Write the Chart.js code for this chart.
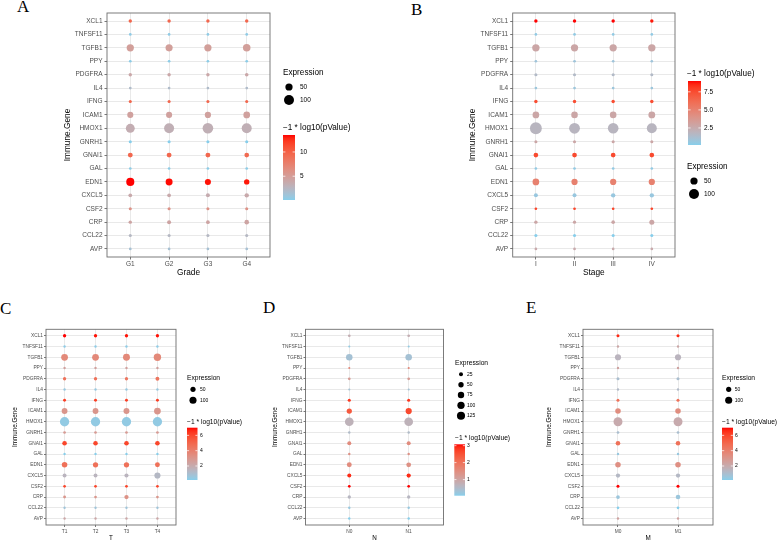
<!DOCTYPE html>
<html>
<head>
<meta charset="utf-8">
<script src="https://cdn.jsdelivr.net/npm/chart.js@4.4.1/dist/chart.umd.min.js"></script>
<style>
  body { margin: 0; background: #fff; width: 778px; height: 540px; position: relative; overflow: hidden; }
  canvas { position: absolute; }
  .tag { position: absolute; font-family: "Liberation Serif", "Times New Roman", serif; font-size: 17px; line-height: 1; color: #000; }
</style>
</head>
<body>
<div class="tag" style="left:17px;top:-2px">A</div>
<div class="tag" style="left:411px;top:1px">B</div>
<div class="tag" style="left:0px;top:300px">C</div>
<div class="tag" style="left:263px;top:299px">D</div>
<div class="tag" style="left:526px;top:299px">E</div>

<canvas id="chartA" width="380" height="285" style="left:0;top:0"></canvas>
<canvas id="chartB" width="398" height="285" style="left:380px;top:0"></canvas>
<canvas id="chartC" width="260" height="255" style="left:0;top:285px"></canvas>
<canvas id="chartD" width="258" height="255" style="left:260px;top:285px"></canvas>
<canvas id="chartE" width="260" height="255" style="left:518px;top:285px"></canvas>

<script>
// genes, top to bottom as on the y axis
const genes = ['XCL1', 'TNFSF11', 'TGFB1', 'PPY', 'PDGFRA', 'IL4', 'IFNG', 'ICAM1', 'HMOX1',
               'GNRH1', 'GNAI1', 'GAL', 'EDN1', 'CXCL5', 'CSF2', 'CRP', 'CCL22', 'AVP'];

// A - Grade
const gradeGroups = ['G1', 'G2', 'G3', 'G4'];
const gradeExpr = [
    [9, 9, 9, 9], [5, 5, 5, 5], [50, 48, 50, 54], [5, 5, 5, 5], [9, 9, 9, 10], [5, 5, 5, 5],
    [7, 7, 7, 7], [34, 34, 36, 42], [78, 100, 114, 100], [7, 7, 7, 7], [21, 21, 21, 19], [5, 5, 5, 5],
    [64, 46, 34, 26], [11, 11, 13, 16], [7, 7, 7, 7], [9, 13, 11, 18], [7, 7, 7, 7], [5, 5, 5, 5]
];
const gradeLogP = [
    [9.5, 9.5, 9.5, 9.5], [0.4, 0.4, 0.4, 0.4], [4.8, 4.8, 4.8, 4.8], [0.3, 0.3, 0.3, 0.3],
    [4, 4, 4, 4], [2, 2, 2, 2], [9.5, 9.5, 9.5, 9.5], [4.6, 4.6, 4.6, 4.6], [3.4, 3.2, 3.2, 3.2],
    [0.1, 0.1, 0.1, 0.1], [9.5, 9.5, 9.5, 9.3], [0.3, 0.3, 0.3, 0.3], [13.5, 13.4, 13.3, 13.2],
    [3.8, 3.8, 3.6, 3.8], [6, 6, 6, 6], [4.3, 4.3, 4.3, 4.3], [2.4, 2.4, 2.4, 2.4], [1.5, 1.5, 1.5, 1.5]
];
const gradeSizeBreaks = [50, 100];
const gradeColourBreaks = [5, 10];
const gradeColourLabels = ['5', '10'];

// B - Stage
const stageGroups = ['I', 'II', 'III', 'IV'];
const stageExpr = [
    [9, 9, 9, 9], [5, 5, 5, 5], [52, 50, 50, 52], [5, 5, 5, 5], [7, 7, 7, 7], [5, 5, 5, 5],
    [9, 9, 9, 9], [42, 40, 40, 44], [144, 118, 114, 100], [7, 7, 7, 7], [19, 19, 19, 19], [5, 5, 5, 5],
    [42, 36, 36, 36], [13, 13, 16, 16], [5, 5, 5, 5], [9, 8, 10, 22], [7, 7, 7, 7], [5, 5, 5, 5]
];
const stageLogP = [
    [9, 9, 9, 8.8], [0.4, 0.4, 0.4, 0.4], [2.8, 2.8, 2.8, 2.8], [0.8, 0.8, 0.8, 0.8],
    [1.5, 1.5, 1.5, 1.5], [0.7, 0.7, 0.7, 0.7], [7.5, 7.5, 7.5, 7.5], [2.8, 2.8, 2.8, 2.8],
    [1.8, 1.8, 1.8, 1.8], [2.8, 2.8, 2.8, 2.8], [7.6, 7.6, 7.6, 7.6], [0.4, 0.4, 0.4, 0.4],
    [5, 5, 5, 5], [0.6, 0.6, 0.6, 0.6], [7.8, 7.8, 7.8, 7.8], [2.8, 2.8, 2.8, 2.8],
    [0.14, 0.14, 0.14, 0.14], [2.6, 2.6, 2.6, 2.6]
];
const stageSizeBreaks = [50, 100];
const stageColourBreaks = [2.5, 5, 7.5];
const stageColourLabels = ['2.5', '5.0', '7.5'];

// C - T
const tGroups = ['T1', 'T2', 'T3', 'T4'];
const tExpr = [
    [18, 18, 18, 18], [8, 8, 8, 8], [90, 90, 95, 110], [8, 8, 8, 8], [18, 18, 18, 27], [8, 8, 8, 8],
    [13, 13, 13, 13], [65, 65, 68, 90], [178, 178, 178, 178], [11, 11, 11, 11], [38, 38, 38, 38],
    [8, 8, 8, 8], [58, 52, 52, 44], [27, 27, 30, 73], [11, 11, 11, 11], [13, 11, 33, 11],
    [8, 8, 8, 8], [8, 8, 8, 8]
];
const tLogP = [
    [7.0, 6.9, 6.9, 6.9], [0.3, 0.3, 0.3, 0.3], [3.6, 3.6, 3.6, 3.6], [2.5, 2.5, 2.5, 2.5],
    [4.6, 4.6, 4.4, 4.4], [0.5, 0.5, 0.5, 0.5], [6.2, 6.2, 6.2, 6.2], [3, 3, 3, 3],
    [0.4, 0.4, 0.4, 0.4], [2.8, 2.8, 2.8, 2.8], [6, 6, 6, 6], [0.17, 0.17, 0.17, 0.17],
    [4.6, 4.6, 4.6, 4.6], [1.5, 1.5, 1.5, 1.3], [6, 6, 6, 6], [3, 3, 3.2, 3],
    [0.7, 0.7, 0.7, 0.7], [2.2, 2.2, 2.2, 2.2]
];
const tSizeBreaks = [50, 100];
const tColourBreaks = [2, 4, 6];
const tColourLabels = ['2', '4', '6'];

// D - N
const nGroups = ['N0', 'N1'];
const nExpr = [
    [9.5, 9.5], [4.6, 4.6], [78, 78], [4.6, 4.6], [9.5, 9.5], [4.6, 4.6], [12.8, 12.8], [48, 70],
    [147, 147], [6.9, 6.9], [25, 25], [6.9, 6.9], [41, 38], [25, 29], [9.5, 9.5], [16, 16],
    [6.9, 6.9], [6.9, 6.9]
];
const nLogP = [
    [0.8, 0.8], [0.15, 0.15], [0.35, 0.35], [1.6, 1.6], [1.2, 1.2], [0.35, 0.35], [2.8, 2.8],
    [2.4, 2.6], [0.7, 0.7], [0.5, 0.5], [1.5, 1.5], [1.4, 1.4], [1.5, 1.4], [2.9, 2.9],
    [3.08, 3.08], [0.6, 0.6], [0.2, 0.2], [0.05, 0.05]
];
const nSizeBreaks = [25, 50, 75, 100, 125];
const nColourBreaks = [1, 2, 3];
const nColourLabels = ['1', '2', '3'];

// E - M
const mGroups = ['M0', 'M1'];
const mExpr = [
    [14.5, 14.5], [8, 8], [73, 73], [8, 8], [14.5, 14.5], [8, 8], [14.5, 14.5], [58, 58],
    [165, 165], [11, 11], [38, 38], [8, 8], [58, 58], [33, 33], [14.5, 14.5], [23, 38],
    [11, 11], [8, 8]
];
const mLogP = [
    [6.6, 6.6], [2.2, 2.2], [1.5, 1.5], [2.4, 2.4], [1.0, 1.0], [1.2, 1.2], [4.6, 4.6],
    [3.4, 3.4], [2.0, 2.0], [1.0, 1.0], [4.6, 4.6], [0.5, 0.5], [3.3, 3.3], [1.3, 1.3],
    [7.0, 7.0], [0.6, 0.6], [0.17, 0.17], [2.4, 2.4]
];
const mSizeBreaks = [50, 100];
const mColourBreaks = [2, 4, 6];
const mColourLabels = ['2', '4', '6'];

const SANS = '"Liberation Sans", Arial, sans-serif';

// skyblue -> red, interpolated in CIELAB like ggplot does
function hexToRgb(h) { return [1, 3, 5].map(i => parseInt(h.slice(i, i + 2), 16)); }
function toLin(c) { c /= 255; return c <= 0.04045 ? c / 12.92 : Math.pow((c + 0.055) / 1.055, 2.4); }
function fromLin(c) {
    const v = c <= 0.0031308 ? 12.92 * c : 1.055 * Math.pow(c, 1 / 2.4) - 0.055;
    return Math.round(Math.max(0, Math.min(1, v)) * 255);
}
const WX = 0.95047, WZ = 1.08883;
function rgbToLab(rgb) {
    const [r, g, b] = rgb.map(toLin);
    const x = (r * 0.4124 + g * 0.3576 + b * 0.1805) / WX;
    const y = r * 0.2126 + g * 0.7152 + b * 0.0722;
    const z = (r * 0.0193 + g * 0.1192 + b * 0.9505) / WZ;
    const f = t => t > 0.008856 ? Math.cbrt(t) : 7.787 * t + 16 / 116;
    return [116 * f(y) - 16, 500 * (f(x) - f(y)), 200 * (f(y) - f(z))];
}
function labToRgb(lab) {
    const fy = (lab[0] + 16) / 116, fx = fy + lab[1] / 500, fz = fy - lab[2] / 200;
    const fi = t => t * t * t > 0.008856 ? t * t * t : (t - 16 / 116) / 7.787;
    const x = fi(fx) * WX, y = fi(fy), z = fi(fz) * WZ;
    return [
        3.2406 * x - 1.5372 * y - 0.4986 * z,
        -0.9689 * x + 1.8758 * y + 0.0415 * z,
        0.0557 * x - 0.2040 * y + 1.0570 * z
    ].map(fromLin);
}
const labLow = rgbToLab(hexToRgb('#87CEEB'));
const labHigh = rgbToLab(hexToRgb('#FF0000'));
function rampColour(t) {
    t = Math.max(0, Math.min(1, t));
    const c = labToRgb(labLow.map((v, i) => v + (labHigh[i] - v) * t));
    return `rgb(${c[0]},${c[1]},${c[2]})`;
}

// panel border (top and right too)
const framePlugin = {
    id: 'frame',
    afterDraw(chart) {
        const {ctx, chartArea: a} = chart;
        ctx.save();
        ctx.strokeStyle = '#6e6e6e';
        ctx.lineWidth = 0.9;
        ctx.strokeRect(a.left, a.top, a.right - a.left, a.bottom - a.top);
        ctx.restore();
    }
};

// size + colourbar legends, drawn beside the panel
function legendPlugin(p, lo, hi) {
    const L = p.legend;
    return {
        id: 'panelLegend',
        afterDraw(chart) {
            const ctx = chart.ctx;
            ctx.save();
            ctx.textAlign = 'left';
            ctx.textBaseline = 'middle';
            ctx.fillStyle = '#000';

            // Expression
            ctx.font = `${L.titleSize}px ${SANS}`;
            ctx.fillText('Expression', L.sizeX, L.sizeTitleY);
            ctx.font = `${L.labelSize}px ${SANS}`;
            p.sizeBreaks.forEach((v, k) => {
                const y = L.sizeY[k];
                ctx.beginPath();
                ctx.arc(L.dotX, y, p.radius(v), 0, Math.PI * 2);
                ctx.fill();
                ctx.fillText(String(v), L.sizeLabelX, y);
            });

            // colour bar
            ctx.font = `${L.titleSize}px ${SANS}`;
            ctx.fillText('\u22121 * log10(pValue)', L.colX, L.colTitleY);
            const grad = ctx.createLinearGradient(0, L.barBottom, 0, L.barTop);
            for (let s = 0; s <= 20; s++) grad.addColorStop(s / 20, rampColour(s / 20));
            ctx.fillStyle = grad;
            ctx.fillRect(L.barX, L.barTop, L.barW, L.barBottom - L.barTop);
            ctx.font = `${L.labelSize}px ${SANS}`;
            p.colourBreaks.forEach((v, k) => {
                const y = L.barBottom - (v - lo) / (hi - lo) * (L.barBottom - L.barTop);
                ctx.strokeStyle = 'rgba(255,255,255,0.9)';
                ctx.lineWidth = 0.8;
                ctx.beginPath();
                ctx.moveTo(L.barX, y); ctx.lineTo(L.barX + L.barW * 0.2, y);
                ctx.moveTo(L.barX + L.barW * 0.8, y); ctx.lineTo(L.barX + L.barW, y);
                ctx.stroke();
                ctx.fillStyle = '#000';
                ctx.fillText(p.colourLabels[k], L.colLabelX, y);
            });
            ctx.restore();
        }
    };
}

function buildPanel(id, p) {
    const all = p.logp.flat();
    const lo = Math.min(...all), hi = Math.max(...all);
    const points = [];
    genes.forEach((g, i) => {
        p.groups.forEach((grp, j) => {
            points.push({
                x: j,
                y: genes.length - 1 - i,
                r: p.radius(p.expr[i][j]),
                c: rampColour((p.logp[i][j] - lo) / (hi - lo))
            });
        });
    });

    const gridOpts = {color: '#e3e3e3', lineWidth: 0.8, tickColor: '#555', tickLength: p.tickLen};

    return new Chart(document.getElementById(id), {
        type: 'bubble',
        data: {
            datasets: [{
                data: points,
                backgroundColor: ctx => (ctx.raw ? ctx.raw.c : '#000'),
                borderWidth: 0,
                hoverBorderWidth: 0
            }]
        },
        options: {
            responsive: false,
            animation: false,
            events: [],
            layout: {padding: p.pad, autoPadding: false},
            plugins: {legend: {display: false}, tooltip: {enabled: false}},
            scales: {
                x: {
                    type: 'linear',
                    min: p.xMin,
                    max: p.xMax,
                    afterBuildTicks: s => { s.ticks = p.groups.map((_, j) => ({value: j})); },
                    afterFit: s => { s.height = p.xH; },
                    ticks: {
                        callback: v => p.groups[v],
                        font: {family: SANS, size: p.tickSize},
                        color: '#4d4d4d',
                        padding: p.xTickPad,
                        maxRotation: 0,
                        autoSkip: false
                    },
                    grid: gridOpts,
                    border: {display: false},
                    title: {
                        display: true, text: p.xTitle, color: '#000',
                        font: {family: SANS, size: p.titleSize},
                        padding: {top: 0, bottom: p.xTitlePad}
                    }
                },
                y: {
                    type: 'linear',
                    min: -0.6,
                    max: genes.length - 0.4,
                    afterBuildTicks: s => { s.ticks = genes.map((_, i) => ({value: i})); },
                    afterFit: s => { s.width = p.yW; },
                    ticks: {
                        callback: v => genes[genes.length - 1 - v],
                        font: {family: SANS, size: p.tickSize},
                        color: '#4d4d4d',
                        padding: p.yTickPad,
                        autoSkip: false
                    },
                    grid: gridOpts,
                    border: {display: false},
                    title: {
                        display: true, text: 'Immune.Gene', color: '#000',
                        font: {family: SANS, size: p.titleSize},
                        padding: {top: 0, bottom: 0}
                    }
                }
            }
        },
        plugins: [framePlugin, legendPlugin(p, lo, hi)]
    });
}

const bigLegendFont = {titleSize: 8.2, labelSize: 6.5};
const smallLegendFont = {titleSize: 6.7, labelSize: 5};

buildPanel('chartA', {
    groups: gradeGroups, expr: gradeExpr, logp: gradeLogP, xTitle: 'Grade',
    sizeBreaks: gradeSizeBreaks, colourBreaks: gradeColourBreaks, colourLabels: gradeColourLabels,
    radius: v => 0.3 + 0.47 * Math.sqrt(v),
    pad: {left: 63, top: 13, right: 110, bottom: 7}, yW: 44, xH: 21, xTitlePad: 0,
    xMin: -0.6, xMax: 3.6, tickSize: 6.5, titleSize: 8.3, tickLen: 2.5, xTickPad: 1.2, yTickPad: 2,
    legend: Object.assign({
        sizeX: 283, sizeTitleY: 73, dotX: 289, sizeY: [87, 100], sizeLabelX: 300,
        colX: 283, colTitleY: 128, barX: 283, barW: 12, barTop: 135, barBottom: 200, colLabelX: 300
    }, bigLegendFont)
});

buildPanel('chartB', {
    groups: stageGroups, expr: stageExpr, logp: stageLogP, xTitle: 'Stage',
    sizeBreaks: stageSizeBreaks, colourBreaks: stageColourBreaks, colourLabels: stageColourLabels,
    radius: v => 0.3 + 0.47 * Math.sqrt(v),
    pad: {left: 88, top: 13, right: 103, bottom: 7}, yW: 44.7, xH: 21, xTitlePad: 0,
    xMin: -0.6, xMax: 3.6, tickSize: 6.5, titleSize: 8.3, tickLen: 2.5, xTickPad: 1.2, yTickPad: 2,
    legend: Object.assign({
        sizeX: 307, sizeTitleY: 167, dotX: 314, sizeY: [181, 194], sizeLabelX: 324,
        colX: 307, colTitleY: 74, barX: 308, barW: 13, barTop: 81, barBottom: 145, colLabelX: 324
    }, bigLegendFont)
});

buildPanel('chartC', {
    groups: tGroups, expr: tExpr, logp: tLogP, xTitle: 'T',
    sizeBreaks: tSizeBreaks, colourBreaks: tColourBreaks, colourLabels: tColourLabels,
    radius: v => 0.25 + 0.33 * Math.sqrt(v),
    pad: {left: 11.2, top: 44.3, right: 84, bottom: 0}, yW: 34.8, xH: 15, xTitlePad: -2,
    xMin: -0.6, xMax: 3.6, tickSize: 4.8, titleSize: 6.3, tickLen: 2, xTickPad: 1.5, yTickPad: 1,
    legend: Object.assign({
        sizeX: 187, sizeTitleY: 93, dotX: 193, sizeY: [104.3, 115.3], sizeLabelX: 200,
        colX: 187, colTitleY: 136.7, barX: 187, barW: 10.5, barTop: 142.7, barBottom: 195, colLabelX: 200
    }, smallLegendFont)
});

buildPanel('chartD', {
    groups: nGroups, expr: nExpr, logp: nLogP, xTitle: 'N',
    sizeBreaks: nSizeBreaks, colourBreaks: nColourBreaks, colourLabels: nColourLabels,
    radius: v => 0.35 + 0.33 * Math.sqrt(v),
    pad: {left: 11.2, top: 44.3, right: 74.5, bottom: 0}, yW: 34.3, xH: 15, xTitlePad: -2,
    xMin: -0.737, xMax: 1.586, tickSize: 4.8, titleSize: 6.3, tickLen: 2, xTickPad: 1.5, yTickPad: 1,
    legend: Object.assign({
        sizeX: 195, sizeTitleY: 77.7, dotX: 201, sizeY: [89.3, 99.7, 110, 120.3, 130.7], sizeLabelX: 207,
        colX: 195, colTitleY: 152.7, barX: 194.3, barW: 10.7, barTop: 159.3, barBottom: 210.7, colLabelX: 207
    }, smallLegendFont)
});

buildPanel('chartE', {
    groups: mGroups, expr: mExpr, logp: mLogP, xTitle: 'M',
    sizeBreaks: mSizeBreaks, colourBreaks: mColourBreaks, colourLabels: mColourLabels,
    radius: v => 0.25 + 0.33 * Math.sqrt(v),
    pad: {left: 27.9, top: 44.3, right: 65, bottom: 0}, yW: 37.1, xH: 15, xTitlePad: -2,
    xMin: -0.583, xMax: 1.583, tickSize: 4.8, titleSize: 6.3, tickLen: 2, xTickPad: 1.5, yTickPad: 1,
    legend: Object.assign({
        sizeX: 204, sizeTitleY: 93, dotX: 210.7, sizeY: [104.3, 115.3], sizeLabelX: 216.7,
        colX: 204, colTitleY: 136.7, barX: 204, barW: 11, barTop: 142.7, barBottom: 195, colLabelX: 217
    }, smallLegendFont)
});
</script>
</body>
</html>
